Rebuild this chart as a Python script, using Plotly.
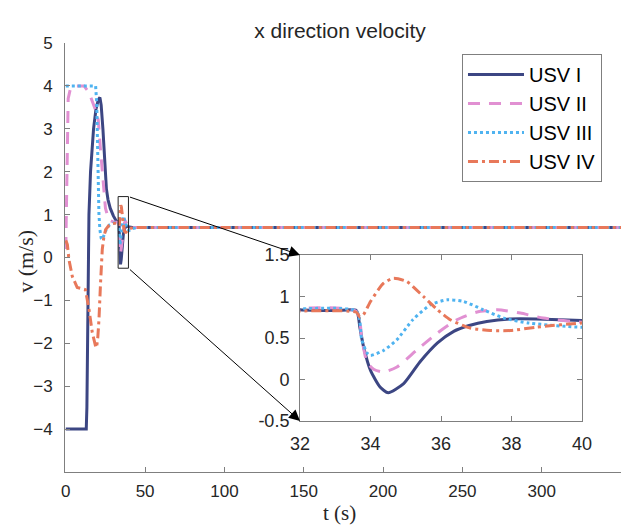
import plotly.graph_objects as go

# ---------------- data ----------------
series_names = ["USV I", "USV II", "USV III", "USV IV"]

t_usv1 = [0, 12.9, 13.3, 13.8, 14.6, 15.6, 16.6, 17.5, 19.0, 20.5, 21.5, 22.3, 23.4, 24.7,
          25.6, 26.6, 28.0, 30.0, 31.0, 32.0, 33.0,
          33.6, 33.7, 33.8, 34.0, 34.27, 34.5, 34.94, 35.4, 35.9, 36.36, 36.8, 37.3, 37.97,
          38.7, 40.0, 42.0, 45.0, 350.0]
v_usv1 = [-4.0, -4.0, -3.5, -1.5, 1.0, 2.0, 2.6, 3.0, 3.45, 3.68, 3.73, 3.55, 3.0, 2.0,
          1.6, 1.35, 1.15, 0.97, 0.9, 0.84, 0.83,
          0.83, 0.62, 0.40, 0.11, -0.09, -0.16, -0.05, 0.21, 0.44, 0.58, 0.65, 0.70, 0.73,
          0.73, 0.71, 0.70, 0.70, 0.70]

t_usv2 = [0, 0.5, 1.0, 1.5, 3.0, 6.0, 11.5, 14.6, 18.8, 20.5, 21.9, 23.0, 24.1, 25.0, 26.5,
          28.0, 30.0, 33.6,
          33.75, 33.9, 34.1, 34.37, 34.75, 35.3, 35.9, 36.45, 37.0, 37.6, 38.25, 38.9, 40.0,
          42.0, 45.0, 350.0]
v_usv2 = [0.2, 1.5, 3.0, 3.7, 3.95, 4.0, 4.0, 3.85, 3.43, 3.2, 2.5, 2.05, 1.6, 1.15, 0.95,
          0.86, 0.83, 0.82,
          0.50, 0.21, 0.12, 0.09, 0.15, 0.35, 0.56, 0.72, 0.81, 0.84, 0.80, 0.74, 0.69,
          0.70, 0.70, 0.70]

t_usv3 = [0, 18.8, 19.5, 19.9, 20.4, 20.9, 21.5, 22.3, 23.0, 24.0, 25.5, 27.5, 30.0, 33.6,
          33.75, 33.9, 34.0, 34.37, 34.75, 35.2, 35.7, 36.18, 36.64, 37.2, 37.78, 38.5, 40.0,
          42.0, 45.0, 350.0]
v_usv3 = [4.0, 4.0, 3.6, 2.8, 2.0, 1.0, 0.65, 0.45, 0.42, 0.5, 0.65, 0.76, 0.8, 0.82,
          0.48, 0.32, 0.29, 0.35, 0.48, 0.72, 0.90, 0.96, 0.94, 0.84, 0.74, 0.68, 0.63,
          0.67, 0.70, 0.70]

t_usv4 = [0, 1.0, 2.0, 4.1, 7.2, 12.4, 14.6, 16.7, 18.8, 19.4, 20.2, 20.9, 21.9, 23.0, 24.0,
          25.1, 27.0, 29.3, 33.6,
          33.7, 33.8, 34.0, 34.37, 34.65, 35.03, 35.5, 35.9, 36.26, 36.83, 37.4, 37.97, 38.7,
          40.0, 42.0, 45.0, 350.0]
v_usv4 = [0.4, 0.3, -0.05, -0.44, -0.7, -0.75, -1.2, -1.75, -2.07, -2.1, -1.85, -1.45, -0.6,
          0.19, 0.48, 0.65, 0.74, 0.79, 0.81,
          0.75, 0.78, 0.94, 1.16, 1.22, 1.18, 1.0, 0.84, 0.72, 0.62, 0.59, 0.59, 0.63,
          0.68, 0.69, 0.70, 0.70]

main_xticks = [0, 50, 100, 150, 200, 250, 300]
main_yticks = [-4, -3, -2, -1, 0, 1, 2, 3, 4, 5]
inset_xticks = [32, 34, 36, 38, 40]
inset_yticks = [-0.5, 0, 0.5, 1, 1.5]
inset_yticklabels = ["-0.5", "0", "0.5", "1", "1.5"]

# zoom rectangle in main axes
zoom_box_t = [33.0, 39.5]
zoom_box_v = [-0.25, 1.42]

# ---------------- styles ----------------
colors = ["#3c4683", "#e190d2", "#4fb3f0", "#e8785a"]
dashes = ["solid", "12px,9px", "3px,3px", "10px,4px,3px,4px"]
widths = [3, 3, 3, 3]

main_xrange = [-0.5, 350]
main_yrange = [-5, 5]
inset_xdom = [0.4227, 0.9299]
inset_ydom = [0.1189, 0.5058]

ts = [t_usv1, t_usv2, t_usv3, t_usv4]
vs = [v_usv1, v_usv2, v_usv3, v_usv4]

fig = go.Figure()
for name, t, v, c, d, w in zip(series_names, ts, vs, colors, dashes, widths):
    fig.add_trace(go.Scatter(x=t, y=v, mode="lines", name=name,
                             line=dict(color=c, dash=d, width=w),
                             xaxis="x", yaxis="y"))
for name, t, v, c, d, w in zip(series_names, ts, vs, colors, dashes, widths):
    fig.add_trace(go.Scatter(x=t, y=v, mode="lines", name=name, showlegend=False,
                             line=dict(color=c, dash=d, width=w, shape="spline",
                                       smoothing=0.6),
                             xaxis="x2", yaxis="y2"))

axis_gray = "#7f7f7f"
tick_font = dict(family="Liberation Sans, Arial", size=17, color="#262626")
inset_font = dict(family="Liberation Sans, Arial", size=18, color="#262626")

fig.update_layout(
    width=625, height=526,
    margin=dict(l=65, r=4, t=43, b=54, autoexpand=False),
    paper_bgcolor="white", plot_bgcolor="white",
    title=dict(text="x direction velocity", x=0.544, xref="container", xanchor="center",
               y=0.941, yref="container", yanchor="middle",
               font=dict(family="Liberation Sans, Arial", size=21, color="#262626")),
    xaxis=dict(range=main_xrange, tickvals=main_xticks, ticks="inside", ticklen=5,
               tickcolor=axis_gray, showline=True, linecolor=axis_gray, linewidth=1,
               showgrid=False, zeroline=False, tickfont=tick_font, ticklabelstandoff=4,
               automargin=False),
    yaxis=dict(range=main_yrange, tickvals=main_yticks, ticks="inside", ticklen=5,
               tickcolor=axis_gray, showline=True, linecolor=axis_gray, linewidth=1,
               showgrid=False, zeroline=False, tickfont=tick_font, ticklabelstandoff=8,
               automargin=False),
    xaxis2=dict(domain=inset_xdom, anchor="y2", range=[32, 40], tickvals=inset_xticks,
                ticks="inside", ticklen=5, tickcolor=axis_gray, showline=True,
                linecolor=axis_gray, mirror="ticks", showgrid=False, zeroline=False,
                tickfont=inset_font, ticklabelstandoff=6, automargin=False),
    yaxis2=dict(domain=inset_ydom, anchor="x2", range=[-0.5, 1.5], tickvals=inset_yticks,
                ticktext=inset_yticklabels, ticks="inside", ticklen=5, tickcolor=axis_gray,
                showline=True, linecolor=axis_gray, mirror="ticks", showgrid=False,
                zeroline=False, tickfont=inset_font, ticklabelstandoff=6, automargin=False),
    legend=dict(x=0.9658, y=0.9744, xanchor="right", yanchor="top",
                bgcolor="white", bordercolor=axis_gray, borderwidth=1,
                font=dict(family="Liberation Sans, Arial", size=20, color="#000000"),
                tracegroupgap=0, itemwidth=56),
    showlegend=True,
)

# zoom rectangle
fig.add_shape(type="rect", xref="x", yref="y", x0=zoom_box_t[0], x1=zoom_box_t[1],
              y0=zoom_box_v[0], y1=zoom_box_v[1], line=dict(color="#222222", width=1))

# arrows from the rectangle to the inset corners (inset corners expressed in main data coords)
inset_left_t = main_xrange[0] + inset_xdom[0] * (main_xrange[1] - main_xrange[0])
inset_top_v = main_yrange[0] + inset_ydom[1] * (main_yrange[1] - main_yrange[0])
inset_bot_v = main_yrange[0] + inset_ydom[0] * (main_yrange[1] - main_yrange[0])
for head_v, tail_v in [(inset_top_v, zoom_box_v[1]), (inset_bot_v, zoom_box_v[0])]:
    fig.add_annotation(x=inset_left_t, y=head_v, xref="x", yref="y",
                       ax=zoom_box_t[1], ay=tail_v, axref="x", ayref="y",
                       text="", showarrow=True, arrowhead=2, arrowsize=2.2,
                       arrowwidth=1, arrowcolor="#000000", standoff=0)

# axis titles
fig.add_annotation(text="v (m/s)", xref="paper", yref="paper", x=-0.0701, y=0.49,
                   textangle=-90, showarrow=False, xanchor="center", yanchor="middle",
                   font=dict(family="Liberation Serif, Times New Roman", size=22, color="#262626"))
fig.add_annotation(text="t (s)", xref="paper", yref="paper", x=0.4946, y=-0.0956,
                   showarrow=False, xanchor="center", yanchor="middle",
                   font=dict(family="Liberation Serif, Times New Roman", size=21, color="#262626"))

fig.write_html("out.html", config={"displayModeBar": False},
               post_script="document.body.style.margin='0px';")
